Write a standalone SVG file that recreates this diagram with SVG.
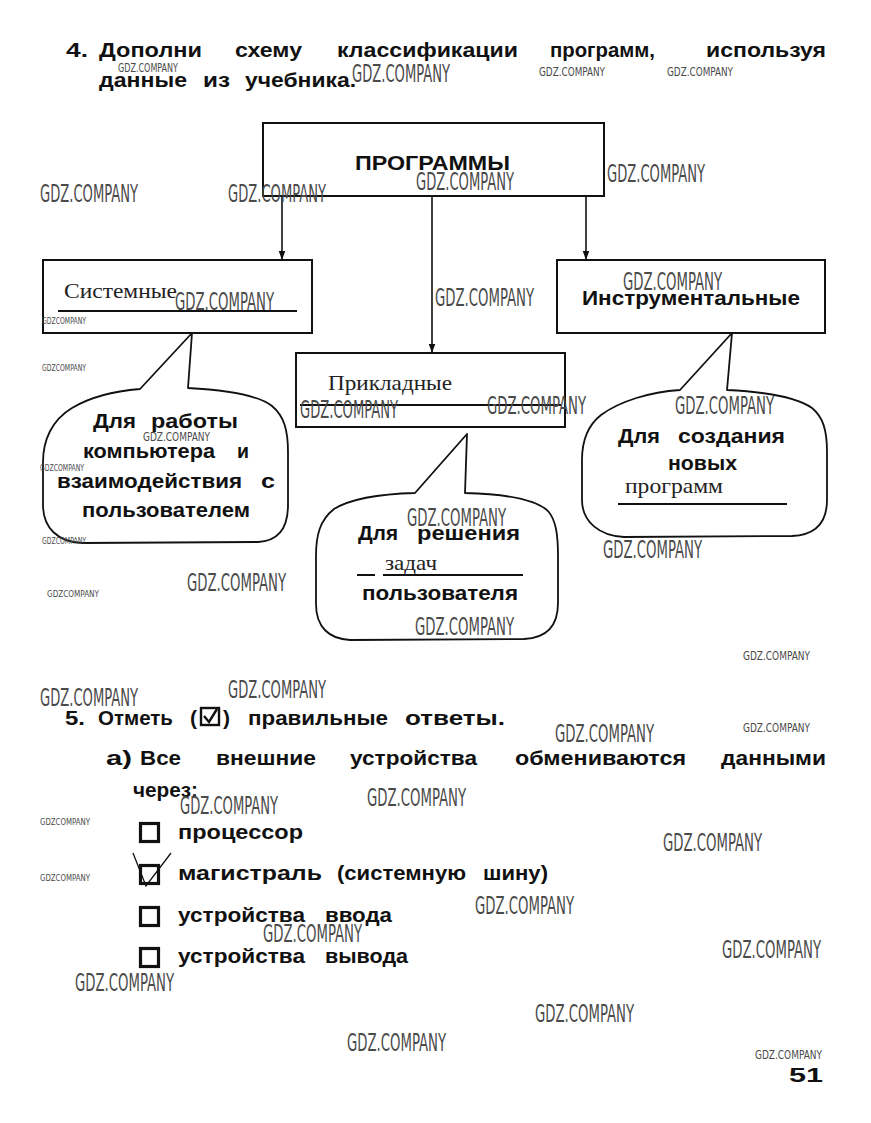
<svg xmlns="http://www.w3.org/2000/svg" width="871" height="1123" viewBox="0 0 871 1123">
<defs>
<style>
.t{font-family:"Liberation Sans",Arial,sans-serif;font-weight:bold;font-size:21px;fill:#111}
.s{font-family:"Liberation Serif","Times New Roman",serif;font-size:21px;fill:#222}
.box{fill:#fff;stroke:#111;stroke-width:2}
.bub{fill:#fff;stroke:#111;stroke-width:1.8;stroke-linejoin:round}
.ul{stroke:#111;stroke-width:2}
.con{stroke:#111;stroke-width:1.6;fill:none}
.cb{fill:none;stroke:#111;stroke-width:3.2}
.wm{font-family:"Liberation Sans Narrow","DejaVu Sans Condensed","Liberation Sans",sans-serif;fill:#4a4a4a;font-size:24px}
.wms{font-family:"Liberation Sans Narrow","DejaVu Sans Condensed","Liberation Sans",sans-serif;fill:#4a4a4a;font-size:13px}
.wmt{font-family:"Liberation Sans Narrow","DejaVu Sans Condensed","Liberation Sans",sans-serif;fill:#4a4a4a;font-size:9px}
</style>
<marker id="arr" markerWidth="9" markerHeight="12" refX="11" refY="4.5" orient="auto" markerUnits="userSpaceOnUse" viewBox="0 0 12 9">
<path d="M0,0 L12,4.5 L0,9 Z" fill="#111"/>
</marker>
</defs>
<rect width="871" height="1123" fill="#fff"/>

<!-- Task 4 heading -->
<g id="task4-heading">
<text class="t" x="66" y="57" textLength="22" lengthAdjust="spacingAndGlyphs">4.</text>
<text class="t" x="99" y="57" textLength="103" lengthAdjust="spacingAndGlyphs">Дополни</text>
<text class="t" x="235" y="57" textLength="67" lengthAdjust="spacingAndGlyphs">схему</text>
<text class="t" x="337" y="57" textLength="181" lengthAdjust="spacingAndGlyphs">классификации</text>
<text class="t" x="550" y="57" textLength="105" lengthAdjust="spacingAndGlyphs">программ,</text>
<text class="t" x="706" y="57" textLength="120" lengthAdjust="spacingAndGlyphs">используя</text>
<text class="t" x="99" y="87" textLength="88" lengthAdjust="spacingAndGlyphs">данные</text>
<text class="t" x="203" y="87" textLength="27" lengthAdjust="spacingAndGlyphs">из</text>
<text class="t" x="245" y="87" textLength="111" lengthAdjust="spacingAndGlyphs">учебника.</text>
</g>

<!-- connectors -->
<g id="connectors">
<line class="con" x1="282" y1="196" x2="282" y2="259" marker-end="url(#arr)"/>
<line class="con" x1="432" y1="196" x2="432" y2="352" marker-end="url(#arr)"/>
<line class="con" x1="586" y1="196" x2="586" y2="259" marker-end="url(#arr)"/>
</g>

<g id="node-programmy">
<rect class="box" x="263" y="123" width="341" height="73"/>
<text class="t" x="355" y="170" textLength="155" lengthAdjust="spacingAndGlyphs">ПРОГРАММЫ</text>
</g>

<g id="node-sistemnye">
<rect class="box" x="43" y="260" width="269" height="73"/>
<text class="s" x="64" y="298" font-size="22" textLength="113" lengthAdjust="spacingAndGlyphs">Системные</text>
<line class="ul" x1="58" y1="311" x2="297" y2="311"/>
</g>

<g id="node-prikladnye">
<rect class="box" x="296" y="353" width="269" height="74"/>
<text class="s" x="328" y="390" font-size="22" textLength="124" lengthAdjust="spacingAndGlyphs">Прикладные</text>
<line class="ul" x1="300" y1="405" x2="561" y2="405"/>
</g>

<g id="node-instrumentalnye">
<rect class="box" x="557" y="260" width="268" height="73"/>
<text class="t" x="582" y="305" textLength="218" lengthAdjust="spacingAndGlyphs">Инструментальные</text>
</g>

<g id="callout-sistemnye">
<path class="bub" d="M140,389 L192,333 L188,388 C225,390 258,395 272,406 C284,416 288,430 288,452 L288,505 C288,528 278,541 258,542 L82,543 C58,542 43,528 43,505 L43,462 C43,440 52,420 72,408 C92,396 115,391 140,389 Z"/>
<text class="t" x="93" y="428" font-size="22" textLength="43" lengthAdjust="spacingAndGlyphs">Для</text>
<text class="t" x="151" y="428" font-size="22" textLength="87" lengthAdjust="spacingAndGlyphs">работы</text>
<text class="t" x="83" y="458" font-size="22" textLength="132" lengthAdjust="spacingAndGlyphs">компьютера</text>
<text class="t" x="237" y="458" font-size="22" textLength="12" lengthAdjust="spacingAndGlyphs">и</text>
<text class="t" x="57" y="488" font-size="22" textLength="185" lengthAdjust="spacingAndGlyphs">взаимодействия</text>
<text class="t" x="261" y="488" font-size="22" textLength="14" lengthAdjust="spacingAndGlyphs">с</text>
<text class="t" x="82" y="517" font-size="22" textLength="168" lengthAdjust="spacingAndGlyphs">пользователем</text>
</g>

<g id="callout-prikladnye">
<path class="bub" d="M415,493 L467,434 L465,493 C505,494 535,499 548,511 C556,520 558,535 558,556 L558,603 C558,626 547,638 524,639 L350,640 C329,639 316,627 316,604 L316,556 C316,535 320,520 334,509 C352,498 380,494 415,493 Z"/>
<text class="t" x="358" y="540" textLength="40" lengthAdjust="spacingAndGlyphs">Для</text>
<text class="t" x="417" y="540" textLength="103" lengthAdjust="spacingAndGlyphs">решения</text>
<text class="s" x="385" y="570" font-size="20" textLength="52" lengthAdjust="spacingAndGlyphs">задач</text>
<line class="ul" x1="357" y1="575" x2="375" y2="575"/>
<line class="ul" x1="383" y1="575" x2="523" y2="575"/>
<text class="t" x="362" y="600" textLength="156" lengthAdjust="spacingAndGlyphs">пользователя</text>
</g>

<g id="callout-instrumentalnye">
<path class="bub" d="M680,390 L732,333 L727,390 C768,392 798,398 812,408 C823,417 827,430 827,452 L827,500 C827,524 815,535 792,536 L624,537 C600,536 582,522 582,500 L582,460 C582,441 587,426 601,415 C620,401 650,392 680,390 Z"/>
<text class="t" x="618" y="443" textLength="42" lengthAdjust="spacingAndGlyphs">Для</text>
<text class="t" x="678" y="443" textLength="107" lengthAdjust="spacingAndGlyphs">создания</text>
<text class="t" x="668" y="470" textLength="69" lengthAdjust="spacingAndGlyphs">новых</text>
<text class="s" x="625" y="493" font-size="20" textLength="98" lengthAdjust="spacingAndGlyphs">программ</text>
<line class="ul" x1="618" y1="504" x2="787" y2="504"/>
</g>

<!-- Task 5 -->
<g id="task5-heading">
<text class="t" x="65" y="725" textLength="20" lengthAdjust="spacingAndGlyphs">5.</text>
<text class="t" x="98" y="725" textLength="75" lengthAdjust="spacingAndGlyphs">Отметь</text>
<text class="t" x="190" y="725" textLength="7" lengthAdjust="spacingAndGlyphs">(</text>
<rect x="201" y="708" width="18" height="17" fill="none" stroke="#111" stroke-width="2.4"/>
<path d="M204,716 L209,722 L217,709" fill="none" stroke="#111" stroke-width="2.4"/>
<text class="t" x="223" y="725" textLength="7" lengthAdjust="spacingAndGlyphs">)</text>
<text class="t" x="248" y="725" textLength="140" lengthAdjust="spacingAndGlyphs">правильные</text>
<text class="t" x="405" y="725" textLength="100" lengthAdjust="spacingAndGlyphs">ответы.</text>
</g>

<g id="task5-question">
<text class="t" x="106" y="765" textLength="26" lengthAdjust="spacingAndGlyphs">а)</text>
<text class="t" x="140" y="765" textLength="41" lengthAdjust="spacingAndGlyphs">Все</text>
<text class="t" x="216" y="765" textLength="100" lengthAdjust="spacingAndGlyphs">внешние</text>
<text class="t" x="350" y="765" textLength="127" lengthAdjust="spacingAndGlyphs">устройства</text>
<text class="t" x="515" y="765" textLength="171" lengthAdjust="spacingAndGlyphs">обмениваются</text>
<text class="t" x="721" y="765" textLength="105" lengthAdjust="spacingAndGlyphs">данными</text>
<text class="t" x="133" y="797" textLength="65" lengthAdjust="spacingAndGlyphs">через:</text>
</g>

<g id="option-1">
<rect class="cb" x="140.5" y="823.5" width="18" height="18"/>
<text class="t" x="178" y="839" textLength="125" lengthAdjust="spacingAndGlyphs">процессор</text>
</g>
<g id="option-2">
<rect class="cb" x="140.5" y="865.5" width="18" height="18"/>
<path d="M133,853 L146,886 L171,853" fill="none" stroke="#111" stroke-width="1.3"/>
<text class="t" x="178" y="880" textLength="144" lengthAdjust="spacingAndGlyphs">магистраль</text>
<text class="t" x="337" y="880" textLength="129" lengthAdjust="spacingAndGlyphs">(системную</text>
<text class="t" x="483" y="880" textLength="65" lengthAdjust="spacingAndGlyphs">шину)</text>
</g>
<g id="option-3">
<rect class="cb" x="140.5" y="907.5" width="18" height="18"/>
<text class="t" x="178" y="922" textLength="127" lengthAdjust="spacingAndGlyphs">устройства</text>
<text class="t" x="325" y="922" textLength="67" lengthAdjust="spacingAndGlyphs">ввода</text>
</g>
<g id="option-4">
<rect class="cb" x="140.5" y="948.5" width="18" height="18"/>
<text class="t" x="178" y="963" textLength="127" lengthAdjust="spacingAndGlyphs">устройства</text>
<text class="t" x="325" y="963" textLength="83" lengthAdjust="spacingAndGlyphs">вывода</text>
</g>

<g id="page-number">
<text class="t" x="789" y="1082" font-size="27" textLength="34" lengthAdjust="spacingAndGlyphs">51</text>
</g>

<!-- watermarks -->
<g id="watermarks">
<text class="wm" x="352" y="82" textLength="98" lengthAdjust="spacingAndGlyphs">GDZ.COMPANY</text>
<text class="wm" x="40" y="202" textLength="98" lengthAdjust="spacingAndGlyphs">GDZ.COMPANY</text>
<text class="wm" x="228" y="202" textLength="98" lengthAdjust="spacingAndGlyphs">GDZ.COMPANY</text>
<text class="wm" x="416" y="190" textLength="98" lengthAdjust="spacingAndGlyphs">GDZ.COMPANY</text>
<text class="wm" x="607" y="182" textLength="98" lengthAdjust="spacingAndGlyphs">GDZ.COMPANY</text>
<text class="wm" x="175" y="310" textLength="99" lengthAdjust="spacingAndGlyphs">GDZ.COMPANY</text>
<text class="wm" x="435" y="306" textLength="99" lengthAdjust="spacingAndGlyphs">GDZ.COMPANY</text>
<text class="wm" x="623" y="290" textLength="99" lengthAdjust="spacingAndGlyphs">GDZ.COMPANY</text>
<text class="wm" x="300" y="418" textLength="98" lengthAdjust="spacingAndGlyphs">GDZ.COMPANY</text>
<text class="wm" x="487" y="414" textLength="99" lengthAdjust="spacingAndGlyphs">GDZ.COMPANY</text>
<text class="wm" x="675" y="414" textLength="99" lengthAdjust="spacingAndGlyphs">GDZ.COMPANY</text>
<text class="wm" x="407" y="526" textLength="99" lengthAdjust="spacingAndGlyphs">GDZ.COMPANY</text>
<text class="wm" x="603" y="558" textLength="99" lengthAdjust="spacingAndGlyphs">GDZ.COMPANY</text>
<text class="wm" x="187" y="591" textLength="99" lengthAdjust="spacingAndGlyphs">GDZ.COMPANY</text>
<text class="wm" x="415" y="635" textLength="99" lengthAdjust="spacingAndGlyphs">GDZ.COMPANY</text>
<text class="wm" x="40" y="706" textLength="98" lengthAdjust="spacingAndGlyphs">GDZ.COMPANY</text>
<text class="wm" x="228" y="698" textLength="98" lengthAdjust="spacingAndGlyphs">GDZ.COMPANY</text>
<text class="wm" x="555" y="742" textLength="99" lengthAdjust="spacingAndGlyphs">GDZ.COMPANY</text>
<text class="wm" x="180" y="814" textLength="98" lengthAdjust="spacingAndGlyphs">GDZ.COMPANY</text>
<text class="wm" x="367" y="806" textLength="99" lengthAdjust="spacingAndGlyphs">GDZ.COMPANY</text>
<text class="wm" x="663" y="851" textLength="99" lengthAdjust="spacingAndGlyphs">GDZ.COMPANY</text>
<text class="wm" x="475" y="914" textLength="99" lengthAdjust="spacingAndGlyphs">GDZ.COMPANY</text>
<text class="wm" x="263" y="942" textLength="99" lengthAdjust="spacingAndGlyphs">GDZ.COMPANY</text>
<text class="wm" x="722" y="958" textLength="99" lengthAdjust="spacingAndGlyphs">GDZ.COMPANY</text>
<text class="wm" x="75" y="991" textLength="99" lengthAdjust="spacingAndGlyphs">GDZ.COMPANY</text>
<text class="wm" x="535" y="1022" textLength="99" lengthAdjust="spacingAndGlyphs">GDZ.COMPANY</text>
<text class="wm" x="347" y="1051" textLength="99" lengthAdjust="spacingAndGlyphs">GDZ.COMPANY</text>
<text class="wms" x="118" y="72" textLength="60" lengthAdjust="spacingAndGlyphs">GDZ.COMPANY</text>
<text class="wms" x="539" y="76" textLength="66" lengthAdjust="spacingAndGlyphs">GDZ.COMPANY</text>
<text class="wms" x="667" y="76" textLength="66" lengthAdjust="spacingAndGlyphs">GDZ.COMPANY</text>
<text class="wms" x="143" y="441" textLength="67" lengthAdjust="spacingAndGlyphs">GDZ.COMPANY</text>
<text class="wms" x="743" y="660" textLength="67" lengthAdjust="spacingAndGlyphs">GDZ.COMPANY</text>
<text class="wms" x="743" y="732" textLength="67" lengthAdjust="spacingAndGlyphs">GDZ.COMPANY</text>
<text class="wms" x="755" y="1059" textLength="67" lengthAdjust="spacingAndGlyphs">GDZ.COMPANY</text>
<text class="wmt" x="42" y="324" textLength="44" lengthAdjust="spacingAndGlyphs">GDZCOMPANY</text>
<text class="wmt" x="42" y="371" textLength="44" lengthAdjust="spacingAndGlyphs">GDZCOMPANY</text>
<text class="wmt" x="40" y="471" textLength="44" lengthAdjust="spacingAndGlyphs">GDZCOMPANY</text>
<text class="wmt" x="42" y="544" textLength="44" lengthAdjust="spacingAndGlyphs">GDZCOMPANY</text>
<text class="wmt" x="47" y="597" textLength="52" lengthAdjust="spacingAndGlyphs">GDZCOMPANY</text>
<text class="wmt" x="40" y="825" textLength="50" lengthAdjust="spacingAndGlyphs">GDZCOMPANY</text>
<text class="wmt" x="40" y="881" textLength="50" lengthAdjust="spacingAndGlyphs">GDZCOMPANY</text>
</g>
</svg>
